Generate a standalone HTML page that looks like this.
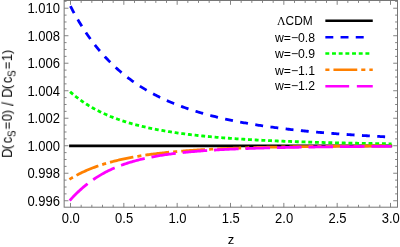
<!DOCTYPE html>
<html><head><meta charset="utf-8"><title>plot</title><style>svg text{will-change:transform}html,body{margin:0;padding:0;background:#fff}body{width:400px;height:247px;overflow:hidden}</style></head><body>
<svg width="400" height="247" viewBox="0 0 400 247" style="display:block">
<rect width="400" height="247" fill="#fff"/>
<path d="M70.50 207.20v-4.30M70.50 0.50v4.30M81.17 207.20v-2.40M81.17 0.50v2.40M91.83 207.20v-2.40M91.83 0.50v2.40M102.50 207.20v-2.40M102.50 0.50v2.40M113.17 207.20v-2.40M113.17 0.50v2.40M123.84 207.20v-4.30M123.84 0.50v4.30M134.50 207.20v-2.40M134.50 0.50v2.40M145.17 207.20v-2.40M145.17 0.50v2.40M155.84 207.20v-2.40M155.84 0.50v2.40M166.50 207.20v-2.40M166.50 0.50v2.40M177.17 207.20v-4.30M177.17 0.50v4.30M187.84 207.20v-2.40M187.84 0.50v2.40M198.50 207.20v-2.40M198.50 0.50v2.40M209.17 207.20v-2.40M209.17 0.50v2.40M219.84 207.20v-2.40M219.84 0.50v2.40M230.50 207.20v-4.30M230.50 0.50v4.30M241.17 207.20v-2.40M241.17 0.50v2.40M251.84 207.20v-2.40M251.84 0.50v2.40M262.51 207.20v-2.40M262.51 0.50v2.40M273.17 207.20v-2.40M273.17 0.50v2.40M283.84 207.20v-4.30M283.84 0.50v4.30M294.51 207.20v-2.40M294.51 0.50v2.40M305.17 207.20v-2.40M305.17 0.50v2.40M315.84 207.20v-2.40M315.84 0.50v2.40M326.51 207.20v-2.40M326.51 0.50v2.40M337.18 207.20v-4.30M337.18 0.50v4.30M347.84 207.20v-2.40M347.84 0.50v2.40M358.51 207.20v-2.40M358.51 0.50v2.40M369.18 207.20v-2.40M369.18 0.50v2.40M379.84 207.20v-2.40M379.84 0.50v2.40M390.51 207.20v-4.30M390.51 0.50v4.30M64.15 200.74h4.30M397.50 200.74h-4.30M64.15 193.87h2.40M397.50 193.87h-2.40M64.15 186.99h2.40M397.50 186.99h-2.40M64.15 180.12h2.40M397.50 180.12h-2.40M64.15 173.24h4.30M397.50 173.24h-4.30M64.15 166.37h2.40M397.50 166.37h-2.40M64.15 159.49h2.40M397.50 159.49h-2.40M64.15 152.62h2.40M397.50 152.62h-2.40M64.15 145.74h4.30M397.50 145.74h-4.30M64.15 138.86h2.40M397.50 138.86h-2.40M64.15 131.99h2.40M397.50 131.99h-2.40M64.15 125.11h2.40M397.50 125.11h-2.40M64.15 118.24h4.30M397.50 118.24h-4.30M64.15 111.36h2.40M397.50 111.36h-2.40M64.15 104.49h2.40M397.50 104.49h-2.40M64.15 97.61h2.40M397.50 97.61h-2.40M64.15 90.74h4.30M397.50 90.74h-4.30M64.15 83.86h2.40M397.50 83.86h-2.40M64.15 76.99h2.40M397.50 76.99h-2.40M64.15 70.11h2.40M397.50 70.11h-2.40M64.15 63.23h4.30M397.50 63.23h-4.30M64.15 56.36h2.40M397.50 56.36h-2.40M64.15 49.48h2.40M397.50 49.48h-2.40M64.15 42.61h2.40M397.50 42.61h-2.40M64.15 35.73h4.30M397.50 35.73h-4.30M64.15 28.86h2.40M397.50 28.86h-2.40M64.15 21.98h2.40M397.50 21.98h-2.40M64.15 15.11h2.40M397.50 15.11h-2.40M64.15 8.23h4.30M397.50 8.23h-4.30M64.15 1.35h2.40M397.50 1.35h-2.40" stroke="#767676" stroke-width="0.9" fill="none"/>
<rect x="64.15" y="0.5" width="333.35" height="206.7" fill="none" stroke="#767676" stroke-width="1"/>
<g fill="none" stroke-width="2.8">
<path d="M69.10 145.84H392.20" stroke="#000"/>
<path d="M70.40 6.09 L71.64 8.48 L72.88 10.82 L74.12 13.10 L75.36 15.34 L76.60 17.53 L77.84 19.67 L79.08 21.76 L80.32 23.81 L81.56 25.82 L82.80 27.78 L84.04 29.71 L85.28 31.59 L86.52 33.43 L87.76 35.23 L89.00 37.00 L90.24 38.73 L91.48 40.43 L92.72 42.09 L93.96 43.71 L95.20 45.30 L96.44 46.86 L97.68 48.39 L98.92 49.89 L100.16 51.36 L101.40 52.80 L102.64 54.21 L103.88 55.59 L105.12 56.95 L106.36 58.28 L107.60 59.58 L108.84 60.86 L110.08 62.11 L111.33 63.34 L112.57 64.54 L113.81 65.72 L115.05 66.88 L116.29 68.02 L117.53 69.14 L118.77 70.23 L120.01 71.31 L121.25 72.36 L122.49 73.39 L123.73 74.41 L124.97 75.41 L126.21 76.39 L127.45 77.35 L128.69 78.29 L129.93 79.22 L131.17 80.13 L132.41 81.02 L133.65 81.90 L134.89 82.76 L136.13 83.60 L137.37 84.44 L138.61 85.25 L139.85 86.06 L141.09 86.84 L142.33 87.62 L143.57 88.38 L144.81 89.13 L146.05 89.86 L147.29 90.59 L148.53 91.30 L149.77 92.00 L151.01 92.68 L152.25 93.36 L153.49 94.02 L154.73 94.67 L155.97 95.32 L157.21 95.95 L158.45 96.57 L159.69 97.18 L160.93 97.78 L162.17 98.37 L163.41 98.95 L164.65 99.52 L165.89 100.09 L167.13 100.64 L168.37 101.18 L169.61 101.72 L170.85 102.25 L172.09 102.77 L173.33 103.28 L174.57 103.78 L175.81 104.28 L177.05 104.76 L178.29 105.24 L179.53 105.71 L180.77 106.18 L182.01 106.64 L183.25 107.09 L184.49 107.53 L185.73 107.97 L186.97 108.40 L188.21 108.83 L189.45 109.24 L190.69 109.65 L191.94 110.06 L193.18 110.46 L194.42 110.85 L195.66 111.24 L196.90 111.62 L198.14 112.00 L199.38 112.37 L200.62 112.74 L201.86 113.10 L203.10 113.45 L204.34 113.80 L205.58 114.15 L206.82 114.49 L208.06 114.82 L209.30 115.15 L210.54 115.48 L211.78 115.80 L213.02 116.11 L214.26 116.43 L215.50 116.73 L216.74 117.04 L217.98 117.34 L219.22 117.63 L220.46 117.92 L221.70 118.21 L222.94 118.49 L224.18 118.77 L225.42 119.05 L226.66 119.32 L227.90 119.59 L229.14 119.85 L230.38 120.11 L231.62 120.37 L232.86 120.62 L234.10 120.88 L235.34 121.12 L236.58 121.37 L237.82 121.61 L239.06 121.85 L240.30 122.08 L241.54 122.31 L242.78 122.54 L244.02 122.77 L245.26 122.99 L246.50 123.21 L247.74 123.42 L248.98 123.64 L250.22 123.85 L251.46 124.06 L252.70 124.26 L253.94 124.47 L255.18 124.67 L256.42 124.87 L257.66 125.06 L258.90 125.26 L260.14 125.45 L261.38 125.64 L262.62 125.82 L263.86 126.01 L265.10 126.19 L266.34 126.37 L267.58 126.55 L268.82 126.72 L270.06 126.89 L271.31 127.06 L272.55 127.23 L273.79 127.40 L275.03 127.57 L276.27 127.73 L277.51 127.89 L278.75 128.05 L279.99 128.21 L281.23 128.36 L282.47 128.51 L283.71 128.67 L284.95 128.82 L286.19 128.96 L287.43 129.11 L288.67 129.25 L289.91 129.40 L291.15 129.54 L292.39 129.68 L293.63 129.82 L294.87 129.95 L296.11 130.09 L297.35 130.22 L298.59 130.35 L299.83 130.48 L301.07 130.61 L302.31 130.74 L303.55 130.87 L304.79 130.99 L306.03 131.11 L307.27 131.24 L308.51 131.36 L309.75 131.48 L310.99 131.59 L312.23 131.71 L313.47 131.82 L314.71 131.94 L315.95 132.05 L317.19 132.16 L318.43 132.27 L319.67 132.38 L320.91 132.49 L322.15 132.60 L323.39 132.70 L324.63 132.81 L325.87 132.91 L327.11 133.01 L328.35 133.11 L329.59 133.21 L330.83 133.31 L332.07 133.41 L333.31 133.51 L334.55 133.60 L335.79 133.70 L337.03 133.79 L338.27 133.88 L339.51 133.98 L340.75 134.07 L341.99 134.16 L343.23 134.25 L344.47 134.33 L345.71 134.42 L346.95 134.51 L348.19 134.59 L349.43 134.68 L350.67 134.76 L351.92 134.84 L353.16 134.93 L354.40 135.01 L355.64 135.09 L356.88 135.17 L358.12 135.25 L359.36 135.32 L360.60 135.40 L361.84 135.48 L363.08 135.55 L364.32 135.63 L365.56 135.70 L366.80 135.77 L368.04 135.85 L369.28 135.92 L370.52 135.99 L371.76 136.06 L373.00 136.13 L374.24 136.20 L375.48 136.27 L376.72 136.34 L377.96 136.40 L379.20 136.47 L380.44 136.54 L381.68 136.60 L382.92 136.67 L384.16 136.73 L385.40 136.79 L386.64 136.86 L387.88 136.92 L389.12 136.98 L390.36 137.04 L391.60 137.10" stroke="#0000ff" stroke-dasharray="7.9 7.42"/>
<path d="M70.10 91.75 L71.34 92.85 L72.58 93.92 L73.82 94.96 L75.07 95.98 L76.31 96.97 L77.55 97.93 L78.79 98.87 L80.03 99.78 L81.27 100.67 L82.51 101.54 L83.75 102.39 L85.00 103.21 L86.24 104.02 L87.48 104.80 L88.72 105.57 L89.96 106.32 L91.20 107.05 L92.44 107.76 L93.68 108.45 L94.93 109.13 L96.17 109.80 L97.41 110.44 L98.65 111.08 L99.89 111.69 L101.13 112.30 L102.37 112.89 L103.62 113.46 L104.86 114.03 L106.10 114.58 L107.34 115.12 L108.58 115.65 L109.82 116.16 L111.06 116.67 L112.30 117.16 L113.55 117.64 L114.79 118.11 L116.03 118.58 L117.27 119.03 L118.51 119.47 L119.75 119.90 L120.99 120.33 L122.24 120.74 L123.48 121.15 L124.72 121.55 L125.96 121.94 L127.20 122.32 L128.44 122.70 L129.68 123.06 L130.92 123.42 L132.17 123.78 L133.41 124.12 L134.65 124.46 L135.89 124.79 L137.13 125.12 L138.37 125.44 L139.61 125.75 L140.85 126.06 L142.10 126.36 L143.34 126.65 L144.58 126.94 L145.82 127.23 L147.06 127.51 L148.30 127.78 L149.54 128.05 L150.79 128.31 L152.03 128.57 L153.27 128.82 L154.51 129.07 L155.75 129.31 L156.99 129.55 L158.23 129.79 L159.47 130.02 L160.72 130.25 L161.96 130.47 L163.20 130.69 L164.44 130.90 L165.68 131.12 L166.92 131.32 L168.16 131.53 L169.41 131.73 L170.65 131.92 L171.89 132.12 L173.13 132.31 L174.37 132.49 L175.61 132.68 L176.85 132.86 L178.09 133.03 L179.34 133.21 L180.58 133.38 L181.82 133.55 L183.06 133.71 L184.30 133.87 L185.54 134.03 L186.78 134.19 L188.02 134.35 L189.27 134.50 L190.51 134.65 L191.75 134.79 L192.99 134.94 L194.23 135.08 L195.47 135.22 L196.71 135.36 L197.96 135.49 L199.20 135.63 L200.44 135.76 L201.68 135.89 L202.92 136.01 L204.16 136.14 L205.40 136.26 L206.64 136.38 L207.89 136.50 L209.13 136.62 L210.37 136.73 L211.61 136.85 L212.85 136.96 L214.09 137.07 L215.33 137.18 L216.57 137.29 L217.82 137.39 L219.06 137.49 L220.30 137.60 L221.54 137.70 L222.78 137.79 L224.02 137.89 L225.26 137.99 L226.51 138.08 L227.75 138.18 L228.99 138.27 L230.23 138.36 L231.47 138.45 L232.71 138.53 L233.95 138.62 L235.19 138.71 L236.44 138.79 L237.68 138.87 L238.92 138.95 L240.16 139.03 L241.40 139.11 L242.64 139.19 L243.88 139.27 L245.13 139.34 L246.37 139.42 L247.61 139.49 L248.85 139.56 L250.09 139.63 L251.33 139.70 L252.57 139.77 L253.81 139.84 L255.06 139.91 L256.30 139.98 L257.54 140.04 L258.78 140.11 L260.02 140.17 L261.26 140.23 L262.50 140.29 L263.74 140.36 L264.99 140.42 L266.23 140.48 L267.47 140.53 L268.71 140.59 L269.95 140.65 L271.19 140.71 L272.43 140.76 L273.68 140.82 L274.92 140.87 L276.16 140.92 L277.40 140.98 L278.64 141.03 L279.88 141.08 L281.12 141.13 L282.36 141.18 L283.61 141.23 L284.85 141.28 L286.09 141.32 L287.33 141.37 L288.57 141.42 L289.81 141.46 L291.05 141.51 L292.29 141.55 L293.54 141.60 L294.78 141.64 L296.02 141.69 L297.26 141.73 L298.50 141.77 L299.74 141.81 L300.98 141.85 L302.23 141.89 L303.47 141.93 L304.71 141.97 L305.95 142.01 L307.19 142.05 L308.43 142.09 L309.67 142.13 L310.91 142.16 L312.16 142.20 L313.40 142.23 L314.64 142.27 L315.88 142.31 L317.12 142.34 L318.36 142.37 L319.60 142.41 L320.85 142.44 L322.09 142.47 L323.33 142.51 L324.57 142.54 L325.81 142.57 L327.05 142.60 L328.29 142.63 L329.53 142.66 L330.78 142.69 L332.02 142.72 L333.26 142.75 L334.50 142.78 L335.74 142.81 L336.98 142.84 L338.22 142.87 L339.46 142.90 L340.71 142.92 L341.95 142.95 L343.19 142.98 L344.43 143.00 L345.67 143.03 L346.91 143.06 L348.15 143.08 L349.40 143.11 L350.64 143.13 L351.88 143.16 L353.12 143.18 L354.36 143.21 L355.60 143.23 L356.84 143.25 L358.08 143.28 L359.33 143.30 L360.57 143.32 L361.81 143.35 L363.05 143.37 L364.29 143.39 L365.53 143.41 L366.77 143.43 L368.02 143.45 L369.26 143.48 L370.50 143.50 L371.74 143.52 L372.98 143.54 L374.22 143.56 L375.46 143.58 L376.70 143.60 L377.95 143.62 L379.19 143.64 L380.43 143.65 L381.67 143.67 L382.91 143.69 L384.15 143.71 L385.39 143.73 L386.63 143.75 L387.88 143.76 L389.12 143.78 L390.36 143.80 L391.60 143.82" stroke="#00ff00" stroke-dasharray="3.9 2.8"/>
<path d="M69.40 179.43 L70.64 178.67 L71.89 177.92 L73.13 177.19 L74.38 176.49 L75.62 175.80 L76.86 175.13 L78.11 174.47 L79.35 173.84 L80.60 173.22 L81.84 172.61 L83.08 172.02 L84.33 171.45 L85.57 170.89 L86.82 170.34 L88.06 169.81 L89.30 169.29 L90.55 168.78 L91.79 168.29 L93.04 167.81 L94.28 167.34 L95.52 166.88 L96.77 166.43 L98.01 165.99 L99.26 165.57 L100.50 165.15 L101.74 164.75 L102.99 164.35 L104.23 163.96 L105.48 163.58 L106.72 163.21 L107.96 162.85 L109.21 162.50 L110.45 162.16 L111.70 161.82 L112.94 161.49 L114.18 161.17 L115.43 160.86 L116.67 160.55 L117.92 160.25 L119.16 159.96 L120.40 159.68 L121.65 159.40 L122.89 159.12 L124.14 158.85 L125.38 158.59 L126.62 158.34 L127.87 158.09 L129.11 157.84 L130.36 157.60 L131.60 157.37 L132.84 157.14 L134.09 156.92 L135.33 156.70 L136.58 156.49 L137.82 156.28 L139.06 156.07 L140.31 155.87 L141.55 155.67 L142.80 155.48 L144.04 155.29 L145.28 155.11 L146.53 154.93 L147.77 154.75 L149.02 154.58 L150.26 154.41 L151.51 154.25 L152.75 154.08 L153.99 153.93 L155.24 153.77 L156.48 153.62 L157.73 153.47 L158.97 153.32 L160.21 153.18 L161.46 153.04 L162.70 152.90 L163.95 152.77 L165.19 152.64 L166.43 152.51 L167.68 152.38 L168.92 152.26 L170.17 152.13 L171.41 152.01 L172.65 151.90 L173.90 151.78 L175.14 151.67 L176.39 151.56 L177.63 151.45 L178.87 151.35 L180.12 151.24 L181.36 151.14 L182.61 151.04 L183.85 150.95 L185.09 150.85 L186.34 150.76 L187.58 150.66 L188.83 150.57 L190.07 150.49 L191.31 150.40 L192.56 150.31 L193.80 150.23 L195.05 150.15 L196.29 150.07 L197.53 149.99 L198.78 149.91 L200.02 149.84 L201.27 149.76 L202.51 149.69 L203.75 149.62 L205.00 149.55 L206.24 149.48 L207.49 149.41 L208.73 149.34 L209.97 149.28 L211.22 149.21 L212.46 149.15 L213.71 149.09 L214.95 149.03 L216.19 148.97 L217.44 148.91 L218.68 148.85 L219.93 148.80 L221.17 148.74 L222.41 148.69 L223.66 148.63 L224.90 148.58 L226.15 148.53 L227.39 148.48 L228.63 148.43 L229.88 148.38 L231.12 148.33 L232.37 148.29 L233.61 148.24 L234.85 148.20 L236.10 148.15 L237.34 148.11 L238.59 148.07 L239.83 148.02 L241.07 147.98 L242.32 147.94 L243.56 147.90 L244.81 147.86 L246.05 147.82 L247.29 147.79 L248.54 147.75 L249.78 147.71 L251.03 147.68 L252.27 147.64 L253.51 147.61 L254.76 147.57 L256.00 147.54 L257.25 147.51 L258.49 147.47 L259.73 147.44 L260.98 147.41 L262.22 147.38 L263.47 147.35 L264.71 147.32 L265.95 147.29 L267.20 147.26 L268.44 147.23 L269.69 147.21 L270.93 147.18 L272.17 147.15 L273.42 147.13 L274.66 147.10 L275.91 147.07 L277.15 147.05 L278.39 147.02 L279.64 147.00 L280.88 146.98 L282.13 146.95 L283.37 146.93 L284.61 146.91 L285.86 146.88 L287.10 146.86 L288.35 146.84 L289.59 146.82 L290.83 146.80 L292.08 146.78 L293.32 146.76 L294.57 146.74 L295.81 146.72 L297.05 146.70 L298.30 146.68 L299.54 146.66 L300.79 146.64 L302.03 146.63 L303.27 146.61 L304.52 146.59 L305.76 146.57 L307.01 146.56 L308.25 146.54 L309.49 146.52 L310.74 146.51 L311.98 146.49 L313.23 146.48 L314.47 146.46 L315.72 146.44 L316.96 146.43 L318.20 146.42 L319.45 146.40 L320.69 146.39 L321.94 146.37 L323.18 146.36 L324.42 146.35 L325.67 146.33 L326.91 146.32 L328.16 146.31 L329.40 146.29 L330.64 146.28 L331.89 146.27 L333.13 146.26 L334.38 146.24 L335.62 146.23 L336.86 146.22 L338.11 146.21 L339.35 146.20 L340.60 146.19 L341.84 146.18 L343.08 146.17 L344.33 146.16 L345.57 146.14 L346.82 146.13 L348.06 146.12 L349.30 146.11 L350.55 146.10 L351.79 146.10 L353.04 146.09 L354.28 146.08 L355.52 146.07 L356.77 146.06 L358.01 146.05 L359.26 146.04 L360.50 146.03 L361.74 146.02 L362.99 146.01 L364.23 146.01 L365.48 146.00 L366.72 145.99 L367.96 145.98 L369.21 145.97 L370.45 145.97 L371.70 145.96 L372.94 145.95 L374.18 145.94 L375.43 145.94 L376.67 145.93 L377.92 145.92 L379.16 145.92 L380.40 145.91 L381.65 145.90 L382.89 145.90 L384.14 145.89 L385.38 145.88 L386.62 145.88 L387.87 145.87 L389.11 145.86 L390.36 145.86 L391.60 145.85" stroke="#ff8000" stroke-dasharray="4.1 4.05 23.9 4.05"/>
<path d="M69.70 200.59 L70.94 199.22 L72.19 197.87 L73.43 196.56 L74.67 195.28 L75.91 194.03 L77.16 192.81 L78.40 191.63 L79.64 190.47 L80.89 189.34 L82.13 188.24 L83.37 187.17 L84.61 186.13 L85.86 185.11 L87.10 184.12 L88.34 183.16 L89.59 182.22 L90.83 181.31 L92.07 180.42 L93.31 179.56 L94.56 178.72 L95.80 177.90 L97.04 177.10 L98.29 176.33 L99.53 175.58 L100.77 174.84 L102.01 174.13 L103.26 173.44 L104.50 172.76 L105.74 172.11 L106.99 171.47 L108.23 170.85 L109.47 170.24 L110.71 169.66 L111.96 169.09 L113.20 168.53 L114.44 167.99 L115.69 167.46 L116.93 166.95 L118.17 166.45 L119.41 165.97 L120.66 165.50 L121.90 165.04 L123.14 164.59 L124.39 164.16 L125.63 163.74 L126.87 163.32 L128.11 162.92 L129.36 162.53 L130.60 162.15 L131.84 161.79 L133.09 161.43 L134.33 161.08 L135.57 160.73 L136.81 160.40 L138.06 160.08 L139.30 159.76 L140.54 159.46 L141.79 159.16 L143.03 158.87 L144.27 158.58 L145.51 158.31 L146.76 158.04 L148.00 157.77 L149.24 157.52 L150.49 157.27 L151.73 157.03 L152.97 156.79 L154.21 156.56 L155.46 156.33 L156.70 156.11 L157.94 155.90 L159.19 155.69 L160.43 155.49 L161.67 155.29 L162.91 155.09 L164.16 154.90 L165.40 154.72 L166.64 154.54 L167.89 154.36 L169.13 154.19 L170.37 154.02 L171.61 153.86 L172.86 153.70 L174.10 153.55 L175.34 153.39 L176.59 153.24 L177.83 153.10 L179.07 152.96 L180.31 152.82 L181.56 152.68 L182.80 152.55 L184.04 152.42 L185.29 152.30 L186.53 152.17 L187.77 152.05 L189.01 151.94 L190.26 151.82 L191.50 151.71 L192.74 151.60 L193.99 151.49 L195.23 151.39 L196.47 151.28 L197.71 151.18 L198.96 151.08 L200.20 150.99 L201.44 150.89 L202.69 150.80 L203.93 150.71 L205.17 150.62 L206.41 150.54 L207.66 150.45 L208.90 150.37 L210.14 150.29 L211.39 150.21 L212.63 150.13 L213.87 150.06 L215.11 149.98 L216.36 149.91 L217.60 149.84 L218.84 149.77 L220.09 149.70 L221.33 149.63 L222.57 149.57 L223.81 149.50 L225.06 149.44 L226.30 149.38 L227.54 149.32 L228.79 149.26 L230.03 149.20 L231.27 149.14 L232.51 149.09 L233.76 149.03 L235.00 148.98 L236.24 148.93 L237.49 148.88 L238.73 148.83 L239.97 148.78 L241.21 148.73 L242.46 148.68 L243.70 148.63 L244.94 148.59 L246.19 148.54 L247.43 148.50 L248.67 148.45 L249.91 148.41 L251.16 148.37 L252.40 148.33 L253.64 148.29 L254.89 148.25 L256.13 148.21 L257.37 148.17 L258.61 148.14 L259.86 148.10 L261.10 148.06 L262.34 148.03 L263.59 147.99 L264.83 147.96 L266.07 147.93 L267.31 147.89 L268.56 147.86 L269.80 147.83 L271.04 147.80 L272.29 147.77 L273.53 147.74 L274.77 147.71 L276.01 147.68 L277.26 147.65 L278.50 147.62 L279.74 147.59 L280.99 147.57 L282.23 147.54 L283.47 147.51 L284.71 147.49 L285.96 147.46 L287.20 147.44 L288.44 147.41 L289.69 147.39 L290.93 147.37 L292.17 147.34 L293.41 147.32 L294.66 147.30 L295.90 147.28 L297.14 147.25 L298.39 147.23 L299.63 147.21 L300.87 147.19 L302.11 147.17 L303.36 147.15 L304.60 147.13 L305.84 147.11 L307.09 147.09 L308.33 147.07 L309.57 147.05 L310.81 147.04 L312.06 147.02 L313.30 147.00 L314.54 146.98 L315.79 146.97 L317.03 146.95 L318.27 146.93 L319.51 146.92 L320.76 146.90 L322.00 146.88 L323.24 146.87 L324.49 146.85 L325.73 146.84 L326.97 146.82 L328.21 146.81 L329.46 146.79 L330.70 146.78 L331.94 146.77 L333.19 146.75 L334.43 146.74 L335.67 146.72 L336.91 146.71 L338.16 146.70 L339.40 146.69 L340.64 146.67 L341.89 146.66 L343.13 146.65 L344.37 146.64 L345.61 146.62 L346.86 146.61 L348.10 146.60 L349.34 146.59 L350.59 146.58 L351.83 146.57 L353.07 146.56 L354.31 146.55 L355.56 146.53 L356.80 146.52 L358.04 146.51 L359.29 146.50 L360.53 146.49 L361.77 146.48 L363.01 146.47 L364.26 146.46 L365.50 146.45 L366.74 146.44 L367.99 146.44 L369.23 146.43 L370.47 146.42 L371.71 146.41 L372.96 146.40 L374.20 146.39 L375.44 146.38 L376.69 146.37 L377.93 146.37 L379.17 146.36 L380.41 146.35 L381.66 146.34 L382.90 146.33 L384.14 146.32 L385.39 146.32 L386.63 146.31 L387.87 146.30 L389.11 146.29 L390.36 146.29 L391.60 146.28" stroke="#ff00ff" stroke-dasharray="24.6 6.9"/>
<g stroke-width="2.55">
<path d="M325.35 20.8H372.75" stroke="#000"/>
<path d="M325.35 37.3H370.75" stroke="#0000ff" stroke-dasharray="7.95 7.25"/>
<path d="M325.35 53.5H371.0" stroke="#00ff00" stroke-dasharray="3.9 2.78"/>
<path d="M325.35 69.8H372.75" stroke="#ff8000" stroke-dasharray="4.1 4.0 23.8 4.0"/>
<path d="M325.35 86.3H372.75" stroke="#ff00ff" stroke-dasharray="23.8 7.7"/>
</g>
</g>
<g font-family="Liberation Sans, sans-serif" font-size="13.0" fill="#000">
<text transform="translate(59.9 205.84) scale(1.0 1.07)" text-anchor="end">0.996</text>
<text transform="translate(59.9 178.34) scale(1.0 1.07)" text-anchor="end">0.998</text>
<text transform="translate(59.9 150.84) scale(1.0 1.07)" text-anchor="end">1.000</text>
<text transform="translate(59.9 123.34) scale(1.0 1.07)" text-anchor="end">1.002</text>
<text transform="translate(59.9 95.84) scale(1.0 1.07)" text-anchor="end">1.004</text>
<text transform="translate(59.9 68.33) scale(1.0 1.07)" text-anchor="end">1.006</text>
<text transform="translate(59.9 40.83) scale(1.0 1.07)" text-anchor="end">1.008</text>
<text transform="translate(59.9 13.33) scale(1.0 1.07)" text-anchor="end">1.010</text>
<text transform="translate(70.80 223.0) scale(1.0 1.07)" text-anchor="middle">0.0</text>
<text transform="translate(124.14 223.0) scale(1.0 1.07)" text-anchor="middle">0.5</text>
<text transform="translate(177.47 223.0) scale(1.0 1.07)" text-anchor="middle">1.0</text>
<text transform="translate(230.81 223.0) scale(1.0 1.07)" text-anchor="middle">1.5</text>
<text transform="translate(284.14 223.0) scale(1.0 1.07)" text-anchor="middle">2.0</text>
<text transform="translate(337.48 223.0) scale(1.0 1.07)" text-anchor="middle">2.5</text>
<text transform="translate(390.81 223.0) scale(1.0 1.07)" text-anchor="middle">3.0</text>
<text x="231" y="244.0" text-anchor="middle" font-size="13">z</text>
<g font-size="12.0">
<text transform="translate(277.0 25.2) scale(1 1.03)" font-size="11.9"><tspan font-family="Liberation Serif, serif">Λ</tspan>CDM</text>
<text transform="translate(274.9 42.1) scale(1.02 1.03)">w=−0.8</text>
<text transform="translate(274.9 58.2) scale(1.02 1.03)">w=−0.9</text>
<text transform="translate(274.9 74.5) scale(1.02 1.03)">w=−1.1</text>
<text transform="translate(274.9 90.5) scale(1.02 1.03)">w=−1.2</text>
</g>
<g transform="translate(12.1 157.45) rotate(-90)"><text transform="translate(-0.40 0.00) scale(1 1.1)" font-size="13.0">D</text><text transform="translate(8.15 -1.00) scale(1 1)" font-size="13.0">(</text><text transform="translate(14.10 0.00) scale(1 1.1)" font-size="13.0">c</text><text transform="translate(20.40 2.90) scale(1 1.15)" font-size="9.9">S</text><text transform="translate(28.05 0.00) scale(1 0.87)" font-size="13.0">=</text><text transform="translate(36.10 0.00) scale(1 1.1)" font-size="13.0">0</text><text transform="translate(43.15 -1.00) scale(1 1)" font-size="13.0">)</text><text transform="translate(59.75 0.00) scale(1 1.1)" font-size="13.0">D</text><text transform="translate(68.30 -1.00) scale(1 1)" font-size="13.0">(</text><text transform="translate(74.25 0.00) scale(1 1.1)" font-size="13.0">c</text><text transform="translate(80.55 2.90) scale(1 1.15)" font-size="9.9">S</text><text transform="translate(88.20 0.00) scale(1 0.87)" font-size="13.0">=</text><text transform="translate(96.25 0.00) scale(1 1.1)" font-size="13.0">1</text><text transform="translate(103.30 -1.00) scale(1 1)" font-size="13.0">)</text><text transform="translate(51.75 1.5) scale(1 1.25)" font-size="13.0">/</text></g>
</g>
</svg>
</body></html>
